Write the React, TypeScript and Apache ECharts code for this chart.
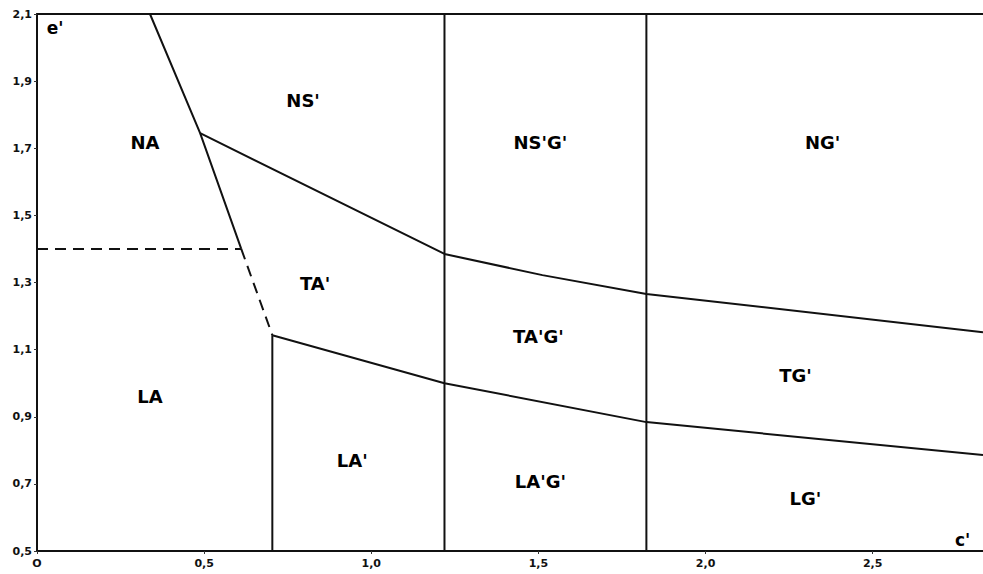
import React, { useEffect, useRef } from "react";
import * as echarts from "echarts";

// Boundary lines (c', e')
const steepSolid: number[][] = [[0.338, 2.1], [0.488, 1.745], [0.611, 1.4]];
const steepDashed: number[][] = [[0.611, 1.4], [0.704, 1.143]];
const naLaDashed: number[][] = [[0, 1.4], [0.611, 1.4]];
const laVertical: number[][] = [[0.704, 1.143], [0.704, 0.5]];
const vertical1: number[][] = [[1.219, 0.5], [1.219, 2.1]];
const vertical2: number[][] = [[1.823, 0.5], [1.823, 2.1]];
const upperCurve: number[][] = [[0.488, 1.745], [1.219, 1.385], [1.512, 1.322], [1.823, 1.266], [2.83, 1.152]];
const lowerCurve: number[][] = [[0.704, 1.143], [1.219, 1.0], [1.823, 0.884], [2.83, 0.786]];

// Region labels
const regionNames = ["NA", "NS'", "NS'G'", "NG'", "TA'", "TA'G'", "TG'", "LA", "LA'", "LA'G'", "LG'"];
const regionPos: number[][] = [
  [0.323, 1.716], [0.796, 1.841], [1.506, 1.716], [2.35, 1.716],
  [0.832, 1.298], [1.5, 1.138], [2.269, 1.024],
  [0.338, 0.959], [0.943, 0.771], [1.506, 0.706], [2.299, 0.655],
];

// Axis names
const axisNames = ["e'", "c'"];
const axisNamePos: number[][] = [[0.054, 2.058], [2.769, 0.533]];

const xTicks = [0, 0.5, 1.0, 1.5, 2.0, 2.5];
const yTicks = [0.5, 0.7, 0.9, 1.1, 1.3, 1.5, 1.7, 1.9, 2.1];
const X_MAX = 2.83;

const fmt = (v: number) => (v === 0 ? "O" : v.toFixed(1).replace(".", ","));

export default function App() {
  const ref = useRef<HTMLDivElement>(null);
  useEffect(() => {
    if (!ref.current) return;
    const chart = echarts.init(ref.current, undefined, { renderer: "svg" });
    const lineSeries = (data: number[][], dashed = false) => ({
      type: "line",
      data,
      symbol: "none",
      silent: true,
      lineStyle: { color: "#111", width: 2, type: dashed ? [11, 7] : "solid" },
      z: 3,
    });
    const labelFont = {
      fontFamily: "DejaVu Sans",
      fontWeight: "bold" as const,
      color: "#000",
    };
    const textSeries = (names: string[], pos: number[][], size: number) => ({
      type: "scatter",
      symbolSize: 0,
      silent: true,
      itemStyle: { color: "#000", opacity: 1 },
      data: names.map((n, i) => ({ name: n, value: pos[i] })),
      label: {
        show: true,
        position: "inside",
        formatter: (p: any) => p.name,
        ...labelFont,
        textBorderWidth: 0,
        fontSize: size,
      },
      z: 5,
    });
    chart.setOption({
      animation: false,
      backgroundColor: "#fff",
      grid: { left: 37, top: 14, right: 0, bottom: 23 },
      xAxis: [
        {
          type: "value",
          min: 0,
          max: X_MAX,
          splitLine: { show: false },
          axisLine: { show: true, onZero: false, lineStyle: { color: "#111", width: 2 } },
          axisTick: { show: true, customValues: xTicks, length: 3, lineStyle: { color: "#333", width: 1 } },
          axisLabel: {
            customValues: xTicks,
            formatter: fmt,
            ...labelFont,
            color: "#111",
            fontSize: 11,
            margin: 7,
          },
        },
        {
          type: "value",
          position: "top",
          min: 0,
          max: X_MAX,
          splitLine: { show: false },
          axisLine: { show: true, onZero: false, lineStyle: { color: "#111", width: 2 } },
          axisTick: { show: false },
          axisLabel: { show: false },
        },
      ],
      yAxis: {
        type: "value",
        min: 0.5,
        max: 2.1,
        splitLine: { show: false },
        axisLine: { show: true, onZero: false, lineStyle: { color: "#111", width: 2 } },
        axisTick: { show: true, customValues: yTicks, length: 3, lineStyle: { color: "#333", width: 1 } },
        axisLabel: {
          customValues: yTicks,
          formatter: fmt,
          ...labelFont,
          color: "#111",
          fontSize: 11,
          margin: 5,
        },
      },
      series: [
        lineSeries(steepSolid),
        lineSeries(steepDashed, true),
        lineSeries(naLaDashed, true),
        lineSeries(laVertical),
        lineSeries(vertical1),
        lineSeries(vertical2),
        lineSeries(upperCurve),
        lineSeries(lowerCurve),
        textSeries(regionNames, regionPos, 18),
        textSeries(axisNames, axisNamePos, 17),
      ],
    });
    return () => chart.dispose();
  }, []);
  return (
    <div
      ref={ref}
      style={{ position: "fixed", left: 0, top: 0, width: 983, height: 574 }}
    />
  );
}
